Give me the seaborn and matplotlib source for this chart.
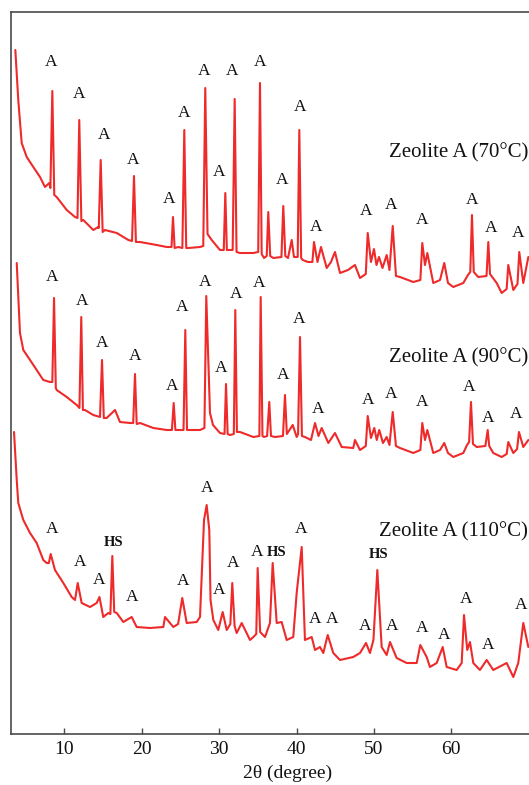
import numpy as np
import pandas as pd
import matplotlib
matplotlib.use("Agg")
import matplotlib.pyplot as plt
import seaborn as sns

# ---------------- data (2theta in degrees, intensity in a.u.) ----------------
theta_70 = [3.67, 4.05, 4.49, 5.14, 5.99, 6.86, 7.50, 8.06, 8.20, 8.45,
            8.70, 9.01, 10.31, 11.38, 11.70, 11.93, 12.20, 12.45, 13.74, 14.39,
            14.45, 14.70, 14.95, 15.25, 16.77, 18.27, 18.75, 19.00, 19.25, 19.78,
            21.93, 23.23, 23.85, 24.04, 24.25, 24.73, 25.25, 25.50, 25.75, 26.02,
            27.53, 27.95, 28.21, 28.50, 29.04, 30.11, 30.60, 30.80, 31.00, 31.31,
            31.75, 32.01, 32.25, 32.70, 34.42, 35.05, 35.28, 35.50, 35.80, 36.15,
            36.35, 36.60, 37.00, 38.05, 38.29, 38.55, 38.90, 39.38, 39.67, 40.15,
            40.36, 40.60, 40.80, 41.48, 42.05, 42.26, 42.71, 43.16, 43.90, 44.45,
            44.97, 45.62, 46.65, 47.55, 48.20, 48.95, 49.20, 49.62, 50.01, 50.33,
            50.66, 51.11, 51.65, 52.01, 52.43, 52.85, 53.37, 55.09, 56.00, 56.25,
            56.60, 56.90, 57.67, 58.54, 59.09, 59.57, 60.25, 61.55, 62.15, 62.45,
            62.67, 62.90, 63.48, 64.55, 64.78, 65.00, 65.86, 66.51, 67.15, 67.36,
            68.01, 68.55, 68.78, 69.30, 69.95]
int_70 = [244, 194, 151, 137, 127, 117, 107, 111, 106, 203,
          99, 97, 84, 77, 76, 174, 73, 74, 64, 67,
          66, 134, 62, 64, 61, 54, 53, 118, 52, 52,
          49, 47, 47, 77, 46, 47, 46, 164, 46, 46,
          47, 48, 206, 60, 54, 44, 44, 101, 44, 44,
          44, 195, 42, 41, 41, 42, 211, 40, 36, 38,
          82, 38, 36, 37, 88, 38, 36, 54, 37, 37,
          164, 36, 34, 32, 32, 52, 32, 47, 26, 32,
          42, 21, 24, 29, 16, 20, 61, 32, 45, 29,
          37, 26, 39, 24, 68, 18, 17, 12, 14, 51,
          29, 41, 11, 14, 31, 11, 7, 11, 19, 22,
          79, 22, 17, 18, 52, 20, 11, 1, 5, 29,
          4, 10, 42, 11, 37]

theta_90 = [3.85, 4.27, 4.70, 5.57, 6.43, 7.28, 8.15, 8.45, 8.67, 8.90,
            9.01, 10.31, 11.60, 11.95, 12.19, 12.40, 12.67, 13.74, 14.61, 14.87,
            15.10, 15.47, 16.55, 17.19, 18.49, 18.90, 19.13, 19.35, 19.78, 21.50,
            23.23, 23.90, 24.13, 24.35, 24.73, 25.40, 25.63, 25.85, 26.24, 27.53,
            28.10, 28.34, 28.82, 29.21, 30.11, 30.70, 30.89, 31.10, 31.40, 31.90,
            32.09, 32.30, 32.70, 34.42, 35.20, 35.37, 35.60, 35.80, 36.20, 36.48,
            36.70, 37.22, 38.25, 38.51, 38.75, 39.51, 40.02, 40.20, 40.45, 40.70,
            41.09, 41.87, 42.39, 42.84, 43.25, 44.11, 44.97, 45.84, 47.33, 47.55,
            48.20, 48.95, 49.20, 49.62, 50.05, 50.37, 50.69, 51.17, 51.65, 52.01,
            52.43, 52.85, 53.37, 55.09, 56.00, 56.25, 56.60, 56.90, 57.67, 58.54,
            59.09, 59.57, 60.25, 61.55, 62.03, 62.30, 62.54, 62.80, 63.28, 64.40,
            64.70, 64.90, 65.42, 66.51, 67.15, 67.36, 68.01, 68.50, 68.74, 69.30,
            69.95]
int_90 = [211, 141, 124, 114, 104, 94, 92, 92, 176, 86,
          84, 77, 69, 66, 157, 64, 64, 59, 57, 114,
          56, 56, 64, 52, 51, 51, 100, 50, 51, 46,
          44, 44, 71, 44, 44, 44, 144, 44, 44, 44,
          46, 178, 61, 49, 41, 40, 90, 40, 39, 40,
          164, 42, 42, 37, 38, 177, 38, 37, 38, 72,
          38, 37, 38, 79, 40, 49, 37, 40, 137, 38,
          37, 34, 51, 38, 46, 31, 41, 27, 26, 34,
          24, 28, 58, 36, 46, 34, 44, 31, 37, 29,
          62, 28, 26, 21, 24, 51, 34, 44, 21, 24,
          31, 21, 17, 21, 29, 32, 72, 30, 27, 28,
          44, 28, 21, 17, 20, 32, 21, 25, 42, 27,
          34]

theta_110 = [3.50, 3.85, 4.05, 4.70, 5.57, 6.43, 7.28, 7.72, 8.00, 8.24,
             8.79, 9.87, 10.95, 11.38, 11.73, 12.24, 13.32, 14.18, 14.54, 15.03,
             15.68, 15.95, 16.20, 16.45, 16.77, 17.62, 18.70, 19.35, 21.07, 22.79,
             23.01, 23.65, 24.08, 24.70, 25.24, 25.81, 27.10, 27.53, 28.05, 28.39,
             28.73, 28.89, 29.25, 29.89, 30.46, 30.98, 31.45, 31.70, 32.00, 32.27,
             32.92, 33.99, 34.42, 34.80, 34.98, 35.30, 35.93, 36.57, 36.92, 37.44,
             38.08, 38.73, 39.58, 40.02, 40.67, 41.09, 41.96, 42.39, 43.03, 43.46,
             44.03, 44.75, 45.62, 47.33, 48.20, 48.98, 49.49, 49.94, 50.44, 51.00,
             51.65, 52.08, 52.94, 54.23, 55.53, 55.99, 56.82, 57.24, 58.11, 58.89,
             59.40, 60.69, 61.34, 61.64, 62.06, 62.41, 62.84, 63.70, 64.57, 65.42,
             67.15, 68.01, 68.65, 69.30, 69.95]
int_110 = [252, 204, 181, 164, 151, 141, 124, 121, 121, 130,
           114, 101, 87, 84, 101, 81, 77, 81, 87, 67,
           71, 70, 128, 72, 71, 62, 67, 57, 56, 57,
           67, 61, 57, 60, 86, 61, 62, 67, 164, 179,
           154, 84, 64, 54, 72, 54, 60, 101, 58, 51,
           61, 44, 47, 50, 116, 52, 47, 61, 121, 61,
           62, 44, 47, 91, 137, 44, 47, 34, 37, 31,
           49, 31, 24, 27, 31, 41, 31, 44, 114, 37,
           29, 42, 26, 21, 21, 39, 27, 17, 21, 37,
           17, 14, 21, 69, 34, 42, 21, 14, 24, 14,
           21, 7, 21, 61, 37]

# peak labels (2theta, intensity of label centre)
lab70_x = [8.24, 11.93, 15.09, 18.91, 23.56, 25.46, 28.05, 30.02, 31.70, 35.28,
           38.08, 40.45, 42.52, 48.98, 52.21, 56.25, 62.71, 65.13, 68.65]
lab70_y = [232, 200, 159, 134, 95, 181, 223, 122, 223, 232,
           114, 187, 67, 83, 89, 74, 94, 66, 61]
lab90_x = [8.37, 12.32, 14.91, 19.09, 23.87, 25.16, 28.18, 30.20, 32.18, 35.15,
           38.29, 40.36, 42.81, 49.20, 52.21, 56.25, 62.28, 64.78, 68.36]
lab90_y = [197, 173, 131, 118, 88, 167, 192, 106, 180, 191,
           99, 155, 65, 74, 80, 72, 87, 56, 60]
lab110_x = [8.37, 12.02, 14.44, 16.42, 18.78, 25.29, 28.43, 30.02, 31.83, 34.85,
            37.44, 40.54, 42.39, 44.54, 48.85, 50.57, 52.37, 56.25, 59.01, 61.90,
            64.70, 69.00]
lab110_y = [155, 122, 104, 141, 87, 103, 196, 94, 121, 132,
            131, 155, 65, 65, 58, 129, 58, 56, 49, 85,
            39, 79]
lab110_txt = ['A', 'A', 'A', 'HS', 'A', 'A', 'A', 'A', 'A', 'A',
              'HS', 'A', 'A', 'A', 'A', 'HS', 'A', 'A', 'A', 'A',
              'A', 'A']

sample_names = ['Zeolite A (70°C)', 'Zeolite A (90°C)', 'Zeolite A (110°C)']
name_y = [141, 116, 152]
x_ticks = [10, 20, 30, 40, 50, 60]

# ---------------- layout / style ----------------
offsets = [440, 260, 50]
line_color = '#ee2a2a'
spine_color = '#4a4a4a'

sns.set_style('ticks')
plt.rcParams['font.family'] = ['Liberation Serif', 'DejaVu Serif']

fig = plt.figure(figsize=(5.29, 7.85), dpi=100)
ax = fig.add_axes([11 / 529, 51 / 785, 553 / 529, 722 / 785])

traces = [(theta_70, int_70), (theta_90, int_90), (theta_110, int_110)]
frames = []
for name, (tx, iy), off in zip(sample_names, traces, offsets):
    frames.append(pd.DataFrame({'theta': tx, 'y': np.asarray(iy, float) + off,
                                'sample': name}))
df = pd.concat(frames, ignore_index=True)

for name in sample_names:
    sub = df[df['sample'] == name]
    sns.lineplot(data=sub, x='theta', y='y', ax=ax, color=line_color,
                 lw=1.5, estimator=None, sort=False, legend=False)

# peak labels
for xs, ys, off in [(lab70_x, lab70_y, offsets[0]), (lab90_x, lab90_y, offsets[1])]:
    for x, y in zip(xs, ys):
        ax.text(x, y + off, 'A', ha='center', va='center', fontsize=12.5,
                color='#111111')
for x, y, t in zip(lab110_x, lab110_y, lab110_txt):
    if t == 'HS':
        ax.text(x, y + offsets[2], t, ha='center', va='center', fontsize=10.5,
                fontweight='bold', color='#111111')
    else:
        ax.text(x, y + offsets[2], t, ha='center', va='center', fontsize=12.5,
                color='#111111')

for name, y, off in zip(sample_names, name_y, offsets):
    ax.text(69.9, y + off, name, ha='right', va='center', fontsize=15,
            color='#111111')

ax.set_xlim(3.11, 74.56)
ax.set_ylim(0, 722)
ax.set_xticks(x_ticks)
ax.set_yticks([])
ax.tick_params(axis='x', direction='in', length=4.5, width=1.0,
               color=spine_color, labelsize=14, pad=5, labelcolor='#111111')
for s in ax.spines.values():
    s.set_color(spine_color)
    s.set_linewidth(1.2)
    s.set_visible(True)
ax.set_xlabel('2θ (degree)', fontsize=14, color='#111111', labelpad=4.5)
ax.set_ylabel('')

fig.savefig('out.png', dpi=100)
